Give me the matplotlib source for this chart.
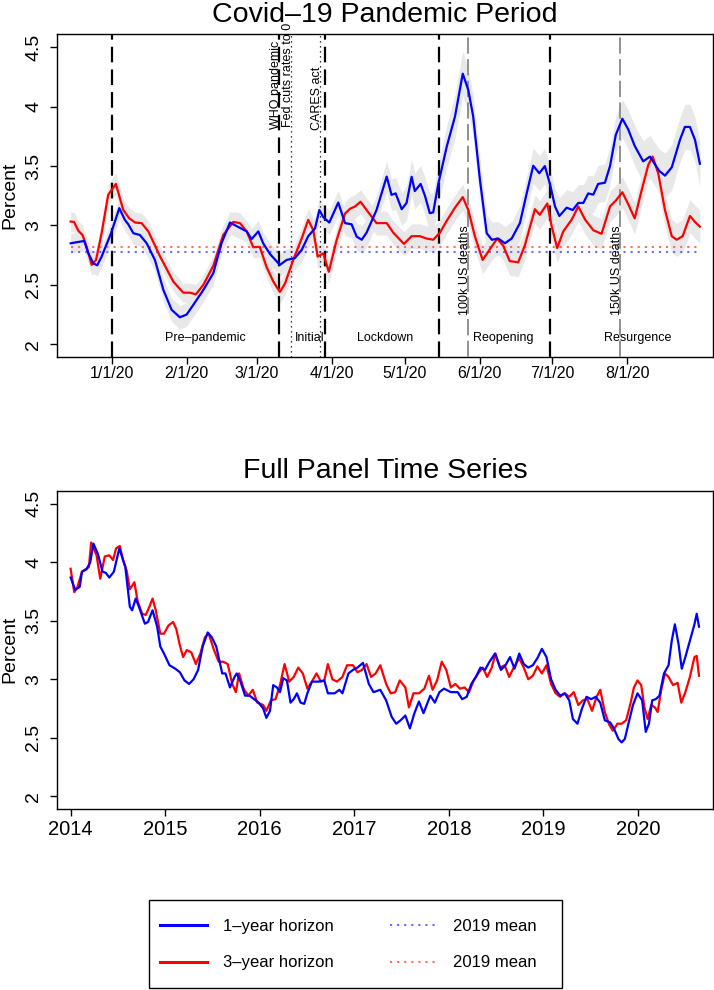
import numpy as np
import matplotlib
matplotlib.use('Agg')
import matplotlib.pyplot as plt
from matplotlib.lines import Line2D
from matplotlib.patches import Rectangle

plt.rcParams['font.family'] = ['Liberation Sans', 'DejaVu Sans']

# ---------------- data: top panel (days since 2020-01-01) ----------------
top_title = "Covid\u201319 Pandemic Period"
bottom_title = "Full Panel Time Series"

blue_days = [-16.9, -13.0, -11.3, -9.6, -7.5, -5.9, -4.1, -0.2, 3.2, 5.5, 6.9, 9.0, 11.7, 14.5, 17.9, 21.4,
             24.8, 28.2, 31.0, 33.7, 37.9, 42.0, 45.4, 48.9, 53.0, 55.8, 57.8, 60.6, 62.6, 65.4, 69.5,
             72.3, 75.7, 78.5, 81.2, 84.0, 85.8, 87.4, 89.9, 93.6, 96.4, 99.1, 101.2, 103.3, 105.3,
             109.4, 113.6, 115.6, 117.3, 119.8, 121.8, 123.9, 125.2, 127.6, 129.4, 131.4, 132.8, 134.9,
             138.4, 141.8, 145.0, 147.3, 149.3, 152.1, 154.9, 157.0, 159.7, 162.4, 165.2, 168.6, 171.4,
             174.1, 176.6, 178.9, 181.0, 183.1, 184.9, 187.9, 190.4, 192.7, 194.8, 196.8, 198.9, 200.9,
             203.7, 205.8, 208.2, 210.9, 213.3, 216.0, 219.5, 222.3, 226.1, 228.5, 231.3, 234.7, 236.7,
             238.8, 240.9, 242.9]
blue_vals = [2.85, 2.864, 2.87, 2.766, 2.68, 2.665, 2.738, 2.935, 3.146, 3.047, 3.01, 2.935, 2.92, 2.85, 2.71,
             2.457, 2.29, 2.227, 2.25, 2.33, 2.457, 2.598, 2.851, 3.025, 2.98, 2.95, 2.885, 2.95, 2.85, 2.76,
             2.668, 2.71, 2.725, 2.794, 2.91, 2.975, 3.13, 3.07, 3.025, 3.193, 3.02, 3.01, 2.906, 2.88,
             2.94, 3.13, 3.412, 3.258, 3.27, 3.137, 3.19, 3.41, 3.29, 3.35, 3.25, 3.104, 3.11, 3.35,
             3.665, 3.918, 4.278, 4.14, 3.92, 3.385, 2.935, 2.88, 2.89, 2.85, 2.89, 3.02, 3.27,
             3.503, 3.44, 3.50, 3.35, 3.16, 3.08, 3.15, 3.13, 3.19, 3.19, 3.27, 3.26, 3.35,
             3.36, 3.50, 3.764, 3.899, 3.81, 3.67, 3.54, 3.58, 3.46, 3.42, 3.49, 3.722, 3.83,
             3.83, 3.72, 3.52]

red_days = [-16.9, -15.5, -13.7, -12.0, -10.3, -8.2, -6.4, -4.1, -1.4, 1.8, 4.8, 7.3, 9.7, 12.4, 15.2, 20.0,
            25.5, 29.6, 32.4, 34.8, 37.9, 42.0, 46.1, 50.3, 53.0, 55.8, 58.5, 61.2, 64.0, 66.8, 69.5,
            71.6, 75.0, 78.5, 81.2, 83.3, 85.1, 87.4, 89.7, 92.9, 96.4, 98.4, 100.5, 102.8, 105.3,
            109.4, 113.6, 116.3, 120.7, 123.9, 127.3, 130.1, 132.8, 135.6, 138.4, 141.8, 145.0, 147.3,
            150.0, 153.2, 156.2, 159.2, 161.7, 164.4, 167.9, 170.6, 174.8, 176.8, 179.9, 181.7, 184.0,
            186.5, 190.0, 192.7, 195.5, 198.9, 202.3, 205.8, 208.2, 210.9, 213.3, 216.0, 218.9, 221.6,
            223.4, 225.7, 228.5, 231.3, 233.3, 235.8, 238.8, 240.9, 242.9]
red_vals = [3.033, 3.03, 2.955, 2.92, 2.822, 2.668, 2.71, 2.935, 3.258, 3.35, 3.132, 3.06, 3.025, 3.02, 2.95, 2.74,
            2.527, 2.434, 2.434, 2.42, 2.50, 2.66, 2.92, 3.03, 3.02, 2.95, 2.817, 2.82, 2.65, 2.527, 2.44,
            2.51, 2.71, 2.89, 3.047, 2.96, 2.738, 2.765, 2.61, 2.875, 3.10, 3.14, 3.16, 3.20, 3.13,
            3.02, 3.02, 2.94, 2.845, 2.91, 2.91, 2.89, 2.88, 2.94, 3.04, 3.15, 3.239, 3.13,
            2.91, 2.71, 2.80, 2.89, 2.83, 2.70, 2.69, 2.83, 3.137, 3.09, 3.185, 2.995, 2.81,
            2.95, 3.05, 3.16, 3.05, 2.96, 2.93, 3.16, 3.21, 3.28, 3.18, 3.06, 3.30, 3.51,
            3.58, 3.44, 3.13, 2.91, 2.88, 2.91, 3.08, 3.03, 2.99]

# confidence band half-widths at knot days
band_days = [-17, 0, 30, 60, 90, 115, 145, 160, 180, 210, 230, 243]
blue_band_hw = [0.08, 0.09, 0.10, 0.09, 0.10, 0.13, 0.19, 0.14, 0.15, 0.16, 0.19, 0.19]
red_band_hw = [0.08, 0.09, 0.08, 0.09, 0.10, 0.10, 0.11, 0.12, 0.12, 0.13, 0.14, 0.14]

mean_1y_2019 = 2.78
mean_3y_2019 = 2.82

date_ticks = [0, 31, 60, 91, 121, 152, 182, 213]
date_labels = ['1/1/20', '2/1/20', '3/1/20', '4/1/20', '5/1/20', '6/1/20', '7/1/20', '8/1/20']
y_ticks = [2, 2.5, 3, 3.5, 4, 4.5]
y_labels = ['2', '2.5', '3', '3.5', '4', '4.5']

phase_break_days = [0, 69, 88, 135, 181]
event_days = [69, 74, 86]
event_labels = ['WHO pandemic', 'Fed cuts rates to 0', 'CARES act']
event_label_y = [3.81, 3.83, 3.80]
death_days = [147, 210]
death_labels = ['100k US deaths', '150k US deaths']
policy_dotted_days = [74, 86]
phase_names = ['Pre\u2013pandemic', 'Initial', 'Lockdown', 'Reopening', 'Resurgence']
phase_label_days = [38.7, 81.8, 112.8, 161.6, 217.1]

# ---------------- data: bottom panel (decimal years) ----------------
full_blue_t = [2014.001, 2014.049, 2014.097, 2014.121, 2014.169, 2014.208, 2014.242, 2014.290, 2014.338,
               2014.372, 2014.410, 2014.458, 2014.516, 2014.579, 2014.627, 2014.651, 2014.689, 2014.723,
               2014.786, 2014.819, 2014.867, 2014.916, 2014.949, 2014.988, 2015.046, 2015.108, 2015.156,
               2015.205, 2015.253, 2015.301, 2015.349, 2015.397, 2015.450, 2015.493, 2015.541, 2015.604,
               2015.638, 2015.686, 2015.734, 2015.758, 2015.797, 2015.845, 2015.893, 2015.941, 2015.989,
               2016.037, 2016.071, 2016.109, 2016.143, 2016.182, 2016.215, 2016.249, 2016.288, 2016.326,
               2016.360, 2016.394, 2016.432, 2016.471, 2016.504, 2016.552, 2016.625, 2016.683, 2016.721,
               2016.793, 2016.842, 2016.875, 2016.938, 2016.986, 2017.034, 2017.092, 2017.154, 2017.203,
               2017.275, 2017.337, 2017.395, 2017.443, 2017.491, 2017.540, 2017.588, 2017.636, 2017.684,
               2017.732, 2017.804, 2017.852, 2017.900, 2017.949, 2018.021, 2018.093, 2018.141, 2018.189,
               2018.238, 2018.286, 2018.334, 2018.382, 2018.430, 2018.488, 2018.551, 2018.599, 2018.647,
               2018.695, 2018.744, 2018.792, 2018.840, 2018.888, 2018.936, 2018.984, 2019.032, 2019.081,
               2019.129, 2019.177, 2019.225, 2019.273, 2019.312, 2019.360, 2019.408, 2019.456, 2019.504,
               2019.553, 2019.601, 2019.649, 2019.707, 2019.745, 2019.793, 2019.827, 2019.861, 2019.899,
               2019.947, 2019.995, 2020.044, 2020.082, 2020.116, 2020.150, 2020.188, 2020.227, 2020.275,
               2020.323, 2020.357, 2020.390, 2020.429, 2020.463, 2020.501, 2020.549, 2020.597, 2020.621,
               2020.645]
full_blue_v = [3.87, 3.765, 3.79, 3.92, 3.94, 4.00, 4.16, 4.07, 3.92, 3.91, 3.87, 3.92, 4.12, 3.96, 3.62,
               3.59, 3.69, 3.62, 3.475, 3.49, 3.59, 3.45, 3.28, 3.22, 3.12, 3.09, 3.06, 2.99, 2.96,
               3.00, 3.08, 3.28, 3.40, 3.36, 3.28, 3.05, 3.05, 2.93, 3.02, 3.05, 2.98, 2.86, 2.86,
               2.83, 2.80, 2.75, 2.67, 2.73, 2.95, 2.93, 2.89, 3.01, 2.99, 2.80, 2.83, 2.88, 2.80,
               2.79, 2.88, 2.98, 2.98, 2.99, 2.88, 2.88, 2.91, 2.88, 3.05, 3.08, 3.10, 3.14, 2.96,
               2.89, 2.91, 2.82, 2.68, 2.62, 2.65, 2.69, 2.58, 2.71, 2.81, 2.71, 2.86, 2.80, 2.89,
               2.92, 2.89, 2.89, 2.83, 2.85, 2.96, 3.02, 3.10, 3.08, 3.15, 3.22, 3.08, 3.12, 3.19,
               3.09, 3.22, 3.13, 3.10, 3.12, 3.18, 3.26, 3.19, 3.00, 2.91, 2.86, 2.88, 2.82, 2.66,
               2.62, 2.75, 2.85, 2.83, 2.85, 2.80, 2.65, 2.63, 2.58, 2.49, 2.46, 2.49, 2.62, 2.78,
               2.88, 2.82, 2.55, 2.62, 2.82, 2.83, 2.86, 3.05, 3.12, 3.33, 3.47, 3.30, 3.09, 3.19,
               3.33, 3.47, 3.56, 3.45]

full_red_t = [2014.001, 2014.039, 2014.073, 2014.121, 2014.194, 2014.218, 2014.275, 2014.314, 2014.362,
              2014.410, 2014.449, 2014.482, 2014.521, 2014.555, 2014.593, 2014.627, 2014.675, 2014.709,
              2014.757, 2014.795, 2014.834, 2014.867, 2014.901, 2014.949, 2014.988, 2015.036, 2015.084,
              2015.118, 2015.156, 2015.190, 2015.229, 2015.277, 2015.325, 2015.373, 2015.421, 2015.460,
              2015.517, 2015.566, 2015.614, 2015.662, 2015.710, 2015.748, 2015.782, 2015.830, 2015.879,
              2015.927, 2015.975, 2016.037, 2016.071, 2016.119, 2016.167, 2016.215, 2016.263, 2016.312,
              2016.360, 2016.408, 2016.456, 2016.504, 2016.552, 2016.600, 2016.648, 2016.683, 2016.721,
              2016.769, 2016.817, 2016.875, 2016.923, 2016.986, 2017.034, 2017.082, 2017.130, 2017.178,
              2017.226, 2017.275, 2017.337, 2017.385, 2017.433, 2017.481, 2017.540, 2017.578, 2017.626,
              2017.684, 2017.741, 2017.790, 2017.828, 2017.876, 2017.925, 2017.973, 2018.021, 2018.069,
              2018.117, 2018.166, 2018.214, 2018.262, 2018.310, 2018.358, 2018.406, 2018.454, 2018.493,
              2018.541, 2018.590, 2018.638, 2018.686, 2018.744, 2018.792, 2018.840, 2018.888, 2018.936,
              2018.984, 2019.032, 2019.081, 2019.129, 2019.177, 2019.225, 2019.273, 2019.321, 2019.369,
              2019.417, 2019.465, 2019.514, 2019.562, 2019.601, 2019.649, 2019.697, 2019.735, 2019.783,
              2019.827, 2019.875, 2019.923, 2019.957, 2019.995, 2020.034, 2020.068, 2020.102, 2020.140,
              2020.179, 2020.208, 2020.246, 2020.285, 2020.323, 2020.371, 2020.419, 2020.458, 2020.501,
              2020.549, 2020.597, 2020.621, 2020.645]
full_red_v = [3.945, 3.745, 3.79, 3.92, 3.96, 4.17, 4.06, 3.86, 4.05, 4.06, 4.02, 4.12, 4.14, 4.02, 3.93,
              3.77, 3.83, 3.67, 3.56, 3.55, 3.62, 3.69, 3.59, 3.39, 3.39, 3.46, 3.49, 3.43, 3.29,
              3.19, 3.25, 3.23, 3.13, 3.22, 3.36, 3.39, 3.25, 3.15, 3.15, 3.13, 2.96, 2.89, 3.05,
              2.92, 2.86, 2.91, 2.80, 2.78, 2.73, 2.82, 2.83, 2.95, 3.13, 2.98, 3.02, 3.10, 3.05,
              2.92, 2.98, 3.05, 2.98, 2.99, 3.13, 3.00, 2.98, 3.02, 3.12, 3.12, 3.06, 3.08, 3.13,
              3.02, 3.05, 3.12, 2.96, 2.88, 2.89, 2.99, 2.93, 2.76, 2.88, 2.88, 2.92, 3.03, 2.91,
              2.99, 3.15, 3.08, 2.93, 2.96, 2.92, 2.93, 2.89, 2.99, 3.05, 3.10, 3.02, 3.10, 3.22,
              3.10, 3.12, 3.02, 3.10, 3.18, 3.10, 3.00, 3.03, 3.11, 3.05, 3.12, 2.96, 2.88, 2.85,
              2.88, 2.85, 2.89, 2.78, 2.82, 2.83, 2.73, 2.85, 2.91, 2.72, 2.61, 2.56, 2.62, 2.62,
              2.65, 2.80, 2.93, 2.99, 2.95, 2.76, 2.66, 2.78, 2.76, 2.72, 2.91, 3.05, 3.02, 2.95,
              2.97, 2.80, 2.89, 3.02, 3.19, 3.20, 3.03]

year_ticks = [2014, 2015, 2016, 2017, 2018, 2019, 2020]
legend_labels = ['1\u2013year horizon', '3\u2013year horizon', '2019 mean', '2019 mean']

# ---------------- styling ----------------
BLUE = '#0000ff'
RED = '#ff0000'
BLUE_MEAN = '#6b6bff'
RED_MEAN = '#ff6b6b'
BAND = '#e8e8e8'
LW = 1.6

W, H = 714, 990
fig = plt.figure(figsize=(W / 100, H / 100), dpi=100)


def px_axes(l, t, r, b):
    return fig.add_axes([l / W, 1 - b / H, (r - l) / W, (b - t) / H])


ax1 = px_axes(57.3, 34.3, 712.7, 356.7)
ax2 = px_axes(57.3, 491.0, 712.7, 808.5)

for ax in (ax1, ax2):
    for s in ax.spines.values():
        s.set_linewidth(1.0)
        s.set_color('black')
    ax.tick_params(direction='out', length=5, width=1.0, color='black')
    ax.set_ylim(1.895, 4.61)
    ax.set_yticks(y_ticks)
    ax.set_yticklabels(y_labels, rotation=90, va='center', fontsize=14)
    ax.tick_params(axis='y', pad=6)
    ax.set_ylabel('Percent', fontsize=14, va='center')
    ax.yaxis.set_label_coords((9.5 - 57.3) / (712.7 - 57.3), 0.5)

# ---- top panel ----
bd = np.array(blue_days)
rd = np.array(red_days)
bv = np.array(blue_vals)
rv = np.array(red_vals)
bhw = np.interp(bd, band_days, blue_band_hw)
rhw = np.interp(rd, band_days, red_band_hw)
ax1.fill_between(bd, bv - bhw, bv + bhw, color=BAND, lw=0, zorder=1)
ax1.fill_between(rd, rv - rhw, rv + rhw, color=BAND, lw=0, zorder=1)

x0, x1 = min(blue_days[0], red_days[0]), max(blue_days[-1], red_days[-1])
ax1.plot([x0, x1], [mean_3y_2019] * 2, color=RED_MEAN, lw=1.5, ls=(0, (1, 2.4)), zorder=2)
ax1.plot([x0, x1], [mean_1y_2019] * 2, color=BLUE_MEAN, lw=1.5, ls=(0, (1, 2.4)), zorder=2)

for d in phase_break_days:
    ax1.axvline(d, color='black', lw=1.6, ls=(0, (7, 3.2)), zorder=3)
for d in policy_dotted_days:
    ax1.axvline(d, color='black', lw=0.9, ls=(0, (1, 3)), zorder=3)
for d in death_days:
    ax1.axvline(d, color='#888888', lw=1.3, ls=(0, (9, 3)), zorder=3)

ax1.plot(rd, rv, color=RED, lw=LW, zorder=5)
ax1.plot(bd, bv, color=BLUE, lw=LW, zorder=6)

for d, lab, y in zip(event_days, event_labels, event_label_y):
    ax1.text(d, y, lab, rotation=90, rotation_mode='anchor', ha='left', va='baseline',
             fontsize=9, zorder=7, clip_on=False)
for d, lab in zip(death_days, death_labels):
    ax1.text(d, 3.0, lab, rotation=90, rotation_mode='anchor', ha='right', va='baseline',
             fontsize=9, zorder=7)
for d, lab in zip(phase_label_days, phase_names):
    ax1.text(d, 2.05, lab, ha='center', va='center', fontsize=9, zorder=7)

ax1.set_xlim(-22.4, 248.2)
ax1.set_xticks(date_ticks)
ax1.set_xticklabels(date_labels, fontsize=11.5)
ax1.tick_params(axis='x', pad=2)
ax1.set_title(top_title, fontsize=20.5, pad=8.5)

# ---- bottom panel ----
ax2.plot(full_red_t, full_red_v, color=RED, lw=LW, zorder=5)
ax2.plot(full_blue_t, full_blue_v, color=BLUE, lw=LW, zorder=6)
ax2.set_xlim(2013.86, 2020.79)
ax2.set_xticks(year_ticks)
ax2.set_xticklabels([str(y) for y in year_ticks], fontsize=14.5)
ax2.tick_params(axis='x', pad=3)
ax2.set_title(bottom_title, fontsize=20.5, pad=9.5)

# ---- legend ----
handles = [Line2D([], [], color=BLUE, lw=2.2),
           Line2D([], [], color=RED, lw=2.2),
           Line2D([], [], color=BLUE_MEAN, lw=1.5, ls=(0, (1, 2.4))),
           Line2D([], [], color=RED_MEAN, lw=1.5, ls=(0, (1, 2.4)))]
leg = fig.legend(handles, legend_labels, ncol=2, loc='center left',
                 bbox_to_anchor=(160 / W, (H - 944.6) / H),
                 bbox_transform=fig.transFigure, fontsize=12,
                 frameon=False, borderpad=0, handlelength=2.8, handletextpad=1.0,
                 labelspacing=1.3, columnspacing=3.35, borderaxespad=0)
fig.add_artist(Rectangle((149 / W, 2 / H), (561.7 - 149) / W, 88 / H,
                         transform=fig.transFigure, fill=False,
                         edgecolor='black', lw=1.0))

fig.savefig('out.png', dpi=100)
